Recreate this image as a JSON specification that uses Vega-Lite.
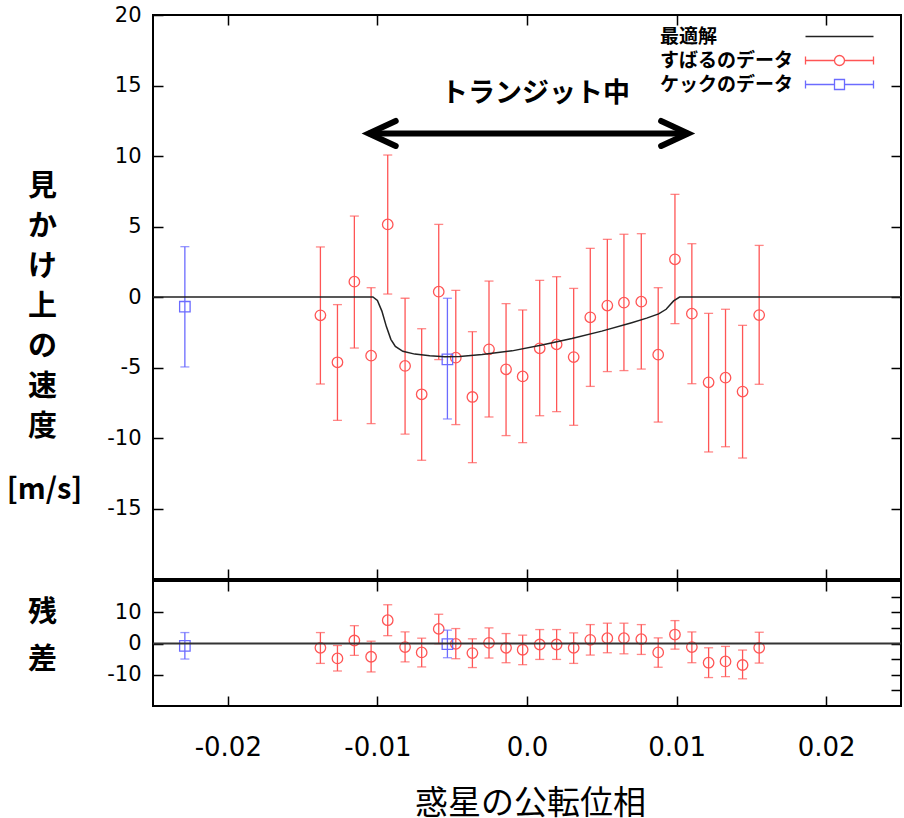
{
  "$schema": "https://vega.github.io/schema/vega-lite/v6.json",
  "padding": {"left": 5, "top": 3, "right": 0, "bottom": 0},
  "spacing": -5,
  "config": {
    "view": {"stroke": "#000", "strokeWidth": 2},
    "axis": {
      "domain": false, "grid": false, "labelOverlap": false,
      "tickColor": "#000", "tickWidth": 1.5, "tickSize": -10,
      "labelColor": "#000", "labelFont": "DejaVu Sans", "labelFontSize": 21,
      "titleColor": "#000"
    },
    "legend": {"padding": 0}
  },
  "datasets": {
    "red": [
      {"x": -0.01381, "v": -1.30, "lo": -6.17, "hi": 3.55, "r": -1.37, "rlo": -6.37, "rhi": 3.5},
      {"x": -0.01267, "v": -4.63, "lo": -8.75, "hi": -0.54, "r": -4.77, "rlo": -8.8, "rhi": -0.64},
      {"x": -0.01154, "v": 1.09, "lo": -3.62, "hi": 5.74, "r": 0.96, "rlo": -3.8, "rhi": 5.7},
      {"x": -0.01042, "v": -4.16, "lo": -8.98, "hi": 0.66, "r": -4.24, "rlo": -9.1, "rhi": 0.74},
      {"x": -0.00931, "v": 5.15, "lo": 0.21, "hi": 10.07, "r": 7.45, "rlo": 2.5, "rhi": 12.4},
      {"x": -0.00815, "v": -4.89, "lo": -9.72, "hi": -0.09, "r": -1.15, "rlo": -5.9, "rhi": 3.7},
      {"x": -0.00704, "v": -6.90, "lo": -11.58, "hi": -2.25, "r": -2.86, "rlo": -7.5, "rhi": 1.7},
      {"x": -0.00590, "v": 0.38, "lo": -4.44, "hi": 5.15, "r": 4.68, "rlo": -0.1, "rhi": 9.36},
      {"x": -0.00476, "v": -4.30, "lo": -9.05, "hi": 0.47, "r": -0.1, "rlo": -4.87, "rhi": 4.78},
      {"x": -0.00365, "v": -7.09, "lo": -11.75, "hi": -2.46, "r": -3.06, "rlo": -7.7, "rhi": 1.5},
      {"x": -0.00254, "v": -3.71, "lo": -8.51, "hi": 1.13, "r": 0.22, "rlo": -4.65, "rhi": 5.0},
      {"x": -0.00140, "v": -5.13, "lo": -9.83, "hi": -0.47, "r": -1.37, "rlo": -6.15, "rhi": 3.18},
      {"x": -0.00029, "v": -5.63, "lo": -10.33, "hi": -0.92, "r": -2.0, "rlo": -6.78, "rhi": 2.67},
      {"x": 0.00085, "v": -3.64, "lo": -8.42, "hi": 1.18, "r": -0.32, "rlo": -5.1, "rhi": 4.46},
      {"x": 0.00198, "v": -3.36, "lo": -8.13, "hi": 1.44, "r": -0.32, "rlo": -5.1, "rhi": 4.46},
      {"x": 0.00312, "v": -4.26, "lo": -9.10, "hi": 0.61, "r": -1.37, "rlo": -6.37, "rhi": 3.4},
      {"x": 0.00423, "v": -1.44, "lo": -6.34, "hi": 3.45, "r": 1.18, "rlo": -3.7, "rhi": 6.05},
      {"x": 0.00537, "v": -0.61, "lo": -5.29, "hi": 4.09, "r": 1.7, "rlo": -2.96, "rhi": 6.5},
      {"x": 0.00648, "v": -0.40, "lo": -5.22, "hi": 4.45, "r": 1.7, "rlo": -3.3, "rhi": 6.5},
      {"x": 0.00764, "v": -0.33, "lo": -5.11, "hi": 4.49, "r": 1.39, "rlo": -3.5, "rhi": 6.05},
      {"x": 0.00877, "v": -4.09, "lo": -8.87, "hi": 0.66, "r": -2.86, "rlo": -7.6, "rhi": 1.8},
      {"x": 0.00989, "v": 2.67, "lo": -1.89, "hi": 7.28, "r": 2.87, "rlo": -1.8, "rhi": 7.33},
      {"x": 0.01102, "v": -1.18, "lo": -6.15, "hi": 3.78, "r": -1.15, "rlo": -6.15, "rhi": 3.7},
      {"x": 0.01214, "v": -6.05, "lo": -10.99, "hi": -1.16, "r": -6.15, "rlo": -10.9, "rhi": -1.37},
      {"x": 0.01327, "v": -5.72, "lo": -10.62, "hi": -0.87, "r": -5.73, "rlo": -10.6, "rhi": -0.93},
      {"x": 0.01441, "v": -6.71, "lo": -11.42, "hi": -2.01, "r": -6.88, "rlo": -11.3, "rhi": -2.1},
      {"x": 0.01552, "v": -1.28, "lo": -6.19, "hi": 3.66, "r": -1.37, "rlo": -6.26, "rhi": 3.6}
    ],
    "blue": [
      {"x": -0.02287, "v": -0.69, "lo": -4.96, "hi": 3.57, "r": -0.73, "rlo": -4.97, "rhi": 3.5},
      {"x": -0.00532, "v": -4.42, "lo": -8.65, "hi": -0.09, "r": -0.2, "rlo": -4.55, "rhi": 4.27}
    ],
    "model": [
      {"x": -0.025, "v": 0}, {"x": -0.0103, "v": 0}, {"x": -0.0100, "v": -0.25},
      {"x": -0.0097, "v": -1.0}, {"x": -0.0094, "v": -2.1}, {"x": -0.0091, "v": -3.0},
      {"x": -0.0088, "v": -3.5}, {"x": -0.0083, "v": -3.85}, {"x": -0.0075, "v": -4.05},
      {"x": -0.0065, "v": -4.17}, {"x": -0.0055, "v": -4.24}, {"x": -0.0045, "v": -4.22},
      {"x": -0.003, "v": -4.07}, {"x": -0.001, "v": -3.82}, {"x": 0.001, "v": -3.4},
      {"x": 0.003, "v": -2.95}, {"x": 0.005, "v": -2.42}, {"x": 0.007, "v": -1.82},
      {"x": 0.008, "v": -1.5}, {"x": 0.0088, "v": -1.2}, {"x": 0.0093, "v": -0.87},
      {"x": 0.0098, "v": -0.28}, {"x": 0.0102, "v": 0}, {"x": 0.025, "v": 0}
    ],
    "zero": [{"x": -0.025, "r": 0}, {"x": 0.025, "r": 0}],
    "arrow": [{"x": -0.01058, "x2": 0.01077, "v": 11.6}],
    "headL": [{"x": -0.01058, "v": 11.6}],
    "headR": [{"x": 0.01077, "v": 11.6}],
    "label": [{"x": 0.00057, "v": 14.4, "text": "トランジット中"}],
    "legend": [
      {"series": "最適解", "x": -1, "v": 0},
      {"series": "すばるのデータ", "x": -1, "v": 0},
      {"series": "ケックのデータ", "x": -1, "v": 0}
    ]
  },
  "vconcat": [
    {
      "width": 748,
      "height": 564,
      "resolve": {"axis": {"x": "independent", "y": "independent"}},
      "layer": [
        {
          "layer": [
            {
              "data": {"name": "red"},
              "mark": {"type": "rule", "color": "#ff5555", "strokeWidth": 1.3},
              "encoding": {
                "x": {"field": "x", "type": "quantitative", "scale": {"domain": [-0.025, 0.025], "nice": false, "zero": false},
                  "axis": {"values": [-0.02, -0.01, 0, 0.01, 0.02], "labels": false, "title": null}},
                "y": {"field": "lo", "type": "quantitative", "scale": {"domain": [-20, 20], "nice": false, "zero": false},
                  "axis": {"values": [-15, -10, -5, 0, 5, 10, 15, 20], "labelPadding": 22, "labelOverlap": false,
                    "labelExpr": "(datum.value < 0 ? '-' : '') + abs(datum.value)",
                    "title": ["見", "か", "け", "上", "の", "速", "度"],
                    "titleAngle": 0, "titleAlign": "center", "titleBaseline": "top",
                    "titleX": -111, "titleY": 157, "titleLineHeight": 40,
                    "titleFont": "Noto Sans CJK JP", "titleFontSize": 29, "titleFontWeight": "bold"}},
                "y2": {"field": "hi"}
              }
            },
            {
              "data": {"name": "red"},
              "mark": {"type": "tick", "orient": "horizontal", "size": 9, "thickness": 1.3, "color": "#ff5555"},
              "encoding": {
                "x": {"field": "x", "type": "quantitative"},
                "y": {"field": "lo", "type": "quantitative"}
              }
            },
            {
              "data": {"name": "red"},
              "mark": {"type": "tick", "orient": "horizontal", "size": 9, "thickness": 1.3, "color": "#ff5555"},
              "encoding": {
                "x": {"field": "x", "type": "quantitative"},
                "y": {"field": "hi", "type": "quantitative"}
              }
            },
            {
              "data": {"name": "red"},
              "mark": {"type": "point", "shape": "circle", "size": 110, "filled": false, "stroke": "#ff5555", "strokeWidth": 1.3, "opacity": 1},
              "encoding": {
                "x": {"field": "x", "type": "quantitative"},
                "y": {"field": "v", "type": "quantitative"}
              }
            },
            {
              "data": {"name": "blue"},
              "mark": {"type": "rule", "color": "#6b6bff", "strokeWidth": 1.3},
              "encoding": {
                "x": {"field": "x", "type": "quantitative"},
                "y": {"field": "lo", "type": "quantitative"},
                "y2": {"field": "hi"}
              }
            },
            {
              "data": {"name": "blue"},
              "mark": {"type": "tick", "orient": "horizontal", "size": 9, "thickness": 1.3, "color": "#6b6bff"},
              "encoding": {
                "x": {"field": "x", "type": "quantitative"},
                "y": {"field": "lo", "type": "quantitative"}
              }
            },
            {
              "data": {"name": "blue"},
              "mark": {"type": "tick", "orient": "horizontal", "size": 9, "thickness": 1.3, "color": "#6b6bff"},
              "encoding": {
                "x": {"field": "x", "type": "quantitative"},
                "y": {"field": "hi", "type": "quantitative"}
              }
            },
            {
              "data": {"name": "blue"},
              "mark": {"type": "point", "shape": "square", "size": 110, "filled": false, "stroke": "#6b6bff", "strokeWidth": 1.3, "opacity": 1},
              "encoding": {
                "x": {"field": "x", "type": "quantitative"},
                "y": {"field": "v", "type": "quantitative"}
              }
            },
            {
              "data": {"name": "arrow"},
              "mark": {"type": "rule", "color": "#000", "strokeWidth": 6},
              "encoding": {
                "x": {"field": "x", "type": "quantitative"},
                "x2": {"field": "x2"},
                "y": {"field": "v", "type": "quantitative"}
              }
            },
            {
              "data": {"name": "headL"},
              "mark": {"type": "point", "shape": "M13.5,-6.25L0,0L13.5,6.25", "size": 16, "filled": false, "stroke": "#000", "strokeWidth": 6, "strokeCap": "round", "strokeJoin": "miter", "opacity": 1},
              "encoding": {
                "x": {"field": "x", "type": "quantitative"},
                "y": {"field": "v", "type": "quantitative"}
              }
            },
            {
              "data": {"name": "headR"},
              "mark": {"type": "point", "shape": "M-13.5,-6.25L0,0L-13.5,6.25", "size": 16, "filled": false, "stroke": "#000", "strokeWidth": 6, "strokeCap": "round", "strokeJoin": "miter", "opacity": 1},
              "encoding": {
                "x": {"field": "x", "type": "quantitative"},
                "y": {"field": "v", "type": "quantitative"}
              }
            },
            {
              "data": {"name": "label"},
              "mark": {"type": "text", "font": "Noto Sans CJK JP", "fontSize": 27, "fontWeight": "bold", "color": "#000", "align": "center", "baseline": "middle"},
              "encoding": {
                "x": {"field": "x", "type": "quantitative"},
                "y": {"field": "v", "type": "quantitative"},
                "text": {"field": "text"}
              }
            },
            {
              "data": {"name": "legend"},
              "mark": {"type": "point", "filled": false, "size": 64, "strokeWidth": 1.3, "clip": true, "opacity": 1},
              "encoding": {
                "x": {"field": "x", "type": "quantitative"},
                "y": {"field": "v", "type": "quantitative"},
                "color": {"field": "series", "type": "nominal",
                  "scale": {"domain": ["最適解", "すばるのデータ", "ケックのデータ"], "range": ["#222222", "#ff5555", "#6b6bff"]},
                  "legend": {"title": null, "orient": "none", "legendX": 677, "legendY": 12,
                    "labelFont": "Noto Sans CJK JP", "labelFontSize": 19, "labelFontWeight": "bold", "labelColor": "#000",
                    "labelOffset": -189, "labelAlign": "left", "symbolSize": 64, "symbolStrokeWidth": 1.3, "rowPadding": 4}},
                "shape": {"field": "series", "type": "nominal",
                  "scale": {"domain": ["最適解", "すばるのデータ", "ケックのデータ"],
                    "range": [
                      "M-8.5,0H8.5",
                      "M-8.5,0H-1.25M1.25,0H8.5M-8.5,-1V1M8.5,-1V1M1.25,0A1.25,1.25,0,1,1,-1.25,0A1.25,1.25,0,1,1,1.25,0",
                      "M-8.5,0H-1.25M1.25,0H8.5M-8.5,-1V1M8.5,-1V1M-1.25,-1.25H1.25V1.25H-1.25Z"
                    ]}}
              }
            }
          ]
        },
        {
          "data": {"name": "model"},
          "mark": {"type": "line", "color": "#222222", "strokeWidth": 1.5},
          "encoding": {
            "x": {"field": "x", "type": "quantitative", "scale": {"domain": [-0.025, 0.025], "nice": false, "zero": false},
              "axis": {"orient": "top", "values": [-0.02, -0.01, 0, 0.01, 0.02], "labels": false, "title": null}},
            "y": {"field": "v", "type": "quantitative", "scale": {"domain": [-20, 20], "nice": false, "zero": false},
              "axis": {"orient": "right", "values": [-15, -10, -5, 0, 5, 10, 15], "labels": false,
                "title": "[m/s]", "titleAngle": 0, "titleAlign": "center", "titleBaseline": "middle",
                "titleX": -857, "titleY": 474,
                "titleFont": "Noto Sans CJK JP", "titleFontSize": 29, "titleFontWeight": "bold"}}
          }
        }
      ]
    },
    {
      "width": 748,
      "height": 125,
      "resolve": {"axis": {"x": "independent", "y": "independent"}},
      "layer": [
        {
          "layer": [
            {
              "data": {"name": "red"},
              "mark": {"type": "rule", "color": "#ff5555", "strokeWidth": 1.3},
              "encoding": {
                "x": {"field": "x", "type": "quantitative", "scale": {"domain": [-0.025, 0.025], "nice": false, "zero": false},
                  "axis": {"values": [-0.02, -0.01, 0, 0.01, 0.02], "labelFontSize": 26, "labelPadding": 38,
                    "labelExpr": "datum.value == 0 ? '0.0' : (datum.value < 0 ? '-' : '') + format(abs(datum.value), '.2f')",
                    "title": "惑星の公転位相", "titleFont": "Noto Sans CJK JP", "titleFontSize": 33, "titleFontWeight": "normal",
                    "titleX": 377, "titleY": 97, "titleBaseline": "middle"}},
                "y": {"field": "rlo", "type": "quantitative", "scale": {"domain": [-20, 20], "nice": false, "zero": false},
                  "axis": {"values": [-10, 0, 10], "labelPadding": 22, "labelOverlap": false,
                    "labelExpr": "(datum.value < 0 ? '-' : '') + abs(datum.value)",
                    "title": ["残", "差"], "titleAngle": 0, "titleAlign": "center", "titleBaseline": "top",
                    "titleX": -111, "titleY": 17, "titleLineHeight": 47,
                    "titleFont": "Noto Sans CJK JP", "titleFontSize": 29, "titleFontWeight": "bold"}},
                "y2": {"field": "rhi"}
              }
            },
            {
              "data": {"name": "red"},
              "mark": {"type": "tick", "orient": "horizontal", "size": 9, "thickness": 1.3, "color": "#ff5555"},
              "encoding": {
                "x": {"field": "x", "type": "quantitative"},
                "y": {"field": "rlo", "type": "quantitative"}
              }
            },
            {
              "data": {"name": "red"},
              "mark": {"type": "tick", "orient": "horizontal", "size": 9, "thickness": 1.3, "color": "#ff5555"},
              "encoding": {
                "x": {"field": "x", "type": "quantitative"},
                "y": {"field": "rhi", "type": "quantitative"}
              }
            },
            {
              "data": {"name": "red"},
              "mark": {"type": "point", "shape": "circle", "size": 110, "filled": false, "stroke": "#ff5555", "strokeWidth": 1.3, "opacity": 1},
              "encoding": {
                "x": {"field": "x", "type": "quantitative"},
                "y": {"field": "r", "type": "quantitative"}
              }
            },
            {
              "data": {"name": "blue"},
              "mark": {"type": "rule", "color": "#6b6bff", "strokeWidth": 1.3},
              "encoding": {
                "x": {"field": "x", "type": "quantitative"},
                "y": {"field": "rlo", "type": "quantitative"},
                "y2": {"field": "rhi"}
              }
            },
            {
              "data": {"name": "blue"},
              "mark": {"type": "tick", "orient": "horizontal", "size": 9, "thickness": 1.3, "color": "#6b6bff"},
              "encoding": {
                "x": {"field": "x", "type": "quantitative"},
                "y": {"field": "rlo", "type": "quantitative"}
              }
            },
            {
              "data": {"name": "blue"},
              "mark": {"type": "tick", "orient": "horizontal", "size": 9, "thickness": 1.3, "color": "#6b6bff"},
              "encoding": {
                "x": {"field": "x", "type": "quantitative"},
                "y": {"field": "rhi", "type": "quantitative"}
              }
            },
            {
              "data": {"name": "blue"},
              "mark": {"type": "point", "shape": "square", "size": 110, "filled": false, "stroke": "#6b6bff", "strokeWidth": 1.3, "opacity": 1},
              "encoding": {
                "x": {"field": "x", "type": "quantitative"},
                "y": {"field": "r", "type": "quantitative"}
              }
            }
          ]
        },
        {
          "data": {"name": "zero"},
          "mark": {"type": "line", "color": "#333333", "strokeWidth": 2},
          "encoding": {
            "x": {"field": "x", "type": "quantitative", "scale": {"domain": [-0.025, 0.025], "nice": false, "zero": false},
              "axis": {"orient": "top", "values": [-0.02, -0.01, 0, 0.01, 0.02], "labels": false, "title": null}},
            "y": {"field": "r", "type": "quantitative", "scale": {"domain": [-20, 20], "nice": false, "zero": false},
              "axis": {"orient": "right", "values": [-15, -10, -5, 0, 5, 10, 15], "labels": false, "title": null}}
          }
        }
      ]
    }
  ]
}
